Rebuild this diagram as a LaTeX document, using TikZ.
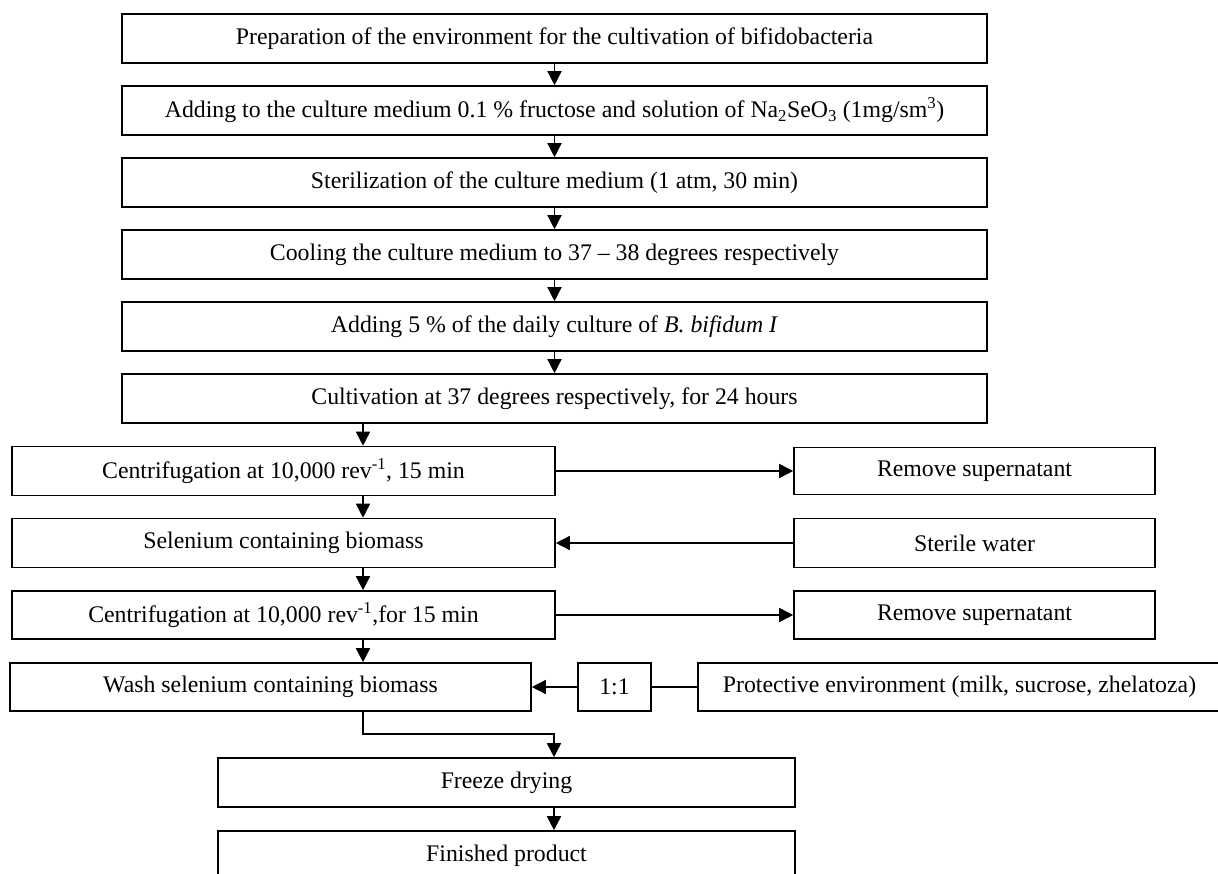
\documentclass[tikz,border=0pt]{standalone}
\usepackage{fontspec}
\setmainfont{Liberation Serif}
\usetikzlibrary{arrows.meta}
\tikzset{
  box/.style={draw, line width=1.6pt, rectangle, inner sep=0pt, align=center,
    minimum height=49pt, font=\fontsize{23.8}{28}\selectfont},
  arr/.style={line width=1.6pt, -{Triangle[width=14pt,length=14pt]}},
  ln/.style={line width=1.6pt},
}
\begin{document}
\begin{tikzpicture}[x=1pt,y=-1pt]
\useasboundingbox (0,0) rectangle (1218,874);
\clip (0,0) rectangle (1218,874);
\node[box, minimum width=865pt] (b1) at (554.5,38.5) {Preparation of the environment for the cultivation of bifidobacteria};
\node[box, minimum width=865pt] (b2) at (554.5,110.5) {Adding to the culture medium 0.1 \% fructose and solution of Na\textsubscript{2}SeO\textsubscript{3} (1mg/sm\textsuperscript{3})};
\node[box, minimum width=865pt] (b3) at (554.5,182.5) {Sterilization of the culture medium (1 atm, 30 min)};
\node[box, minimum width=865pt] (b4) at (554.5,254.5) {Cooling the culture medium to 37 -- 38 degrees respectively};
\node[box, minimum width=865pt] (b5) at (554.5,326.5) {Adding 5 \% of the daily culture of \textit{B. bifidum I}};
\node[box, minimum width=865pt] (b6) at (554.5,398.5) {Cultivation at 37 degrees respectively, for 24 hours};
\node[box, minimum width=543pt] (c1) at (283.5,471) {Centrifugation at 10,000 rev\textsuperscript{-1}, 15 min};
\node[box, minimum width=361pt, minimum height=47pt] (rs1) at (974.5,471) {Remove supernatant};
\node[box, minimum width=543pt] (se) at (283.5,543) {Selenium containing biomass};
\node[box, minimum width=361pt] (sw) at (974.5,543) {Sterile water};
\node[box, minimum width=543pt, minimum height=48pt] (c2) at (283.5,615) {Centrifugation at 10,000 rev\textsuperscript{-1},for 15 min};
\node[box, minimum width=361pt, minimum height=48pt] (rs2) at (974.5,615) {Remove supernatant};
\node[box, minimum width=521pt, minimum height=48pt] (wa) at (270.5,687) {Wash selenium containing biomass};
\node[box, minimum width=73pt, minimum height=48pt] (r11) at (614.5,687) {1:1};
\node[box, minimum width=523pt, minimum height=48pt] (pe) at (959.5,687) {Protective environment (milk, sucrose, zhelatoza)};
\node[box, minimum width=577pt] (fd) at (506.5,782.5) {Freeze drying};
\node[box, minimum width=577pt] (fp) at (506.5,855.5) {Finished product};
\coordinate (k1) at (363,734);
\coordinate (k2) at (554,734);
% vertical main flow
\draw[arr] (b1.south) -- (b2.north);
\draw[arr] (b2.south) -- (b3.north);
\draw[arr] (b3.south) -- (b4.north);
\draw[arr] (b4.south) -- (b5.north);
\draw[arr] (b5.south) -- (b6.north);
\draw[arr] ([xshift=79.5pt]c1.north |- b6.south) -- ([xshift=79.5pt]c1.north);
\draw[arr] ([xshift=79.5pt]c1.south) -- ([xshift=79.5pt]se.north);
\draw[arr] ([xshift=79.5pt]se.south) -- ([xshift=79.5pt]c2.north);
\draw[arr] ([xshift=79.5pt]c2.south) -- ([xshift=92.5pt]wa.north);
% side branches
\draw[arr] (c1.east) -- (rs1.west);
\draw[arr] (sw.west) -- (se.east);
\draw[arr] (c2.east) -- (rs2.west);
\draw[ln] (pe.west) -- (r11.east);
\draw[arr] (r11.west) -- (wa.east);
% to freeze drying
\draw[arr] ([xshift=92.5pt]wa.south) -- (k1) -- (k2) -- ([xshift=47.5pt]fd.north);
\draw[arr] ([xshift=47.5pt]fd.south) -- ([xshift=47.5pt]fp.north);
\end{tikzpicture}
\end{document}
